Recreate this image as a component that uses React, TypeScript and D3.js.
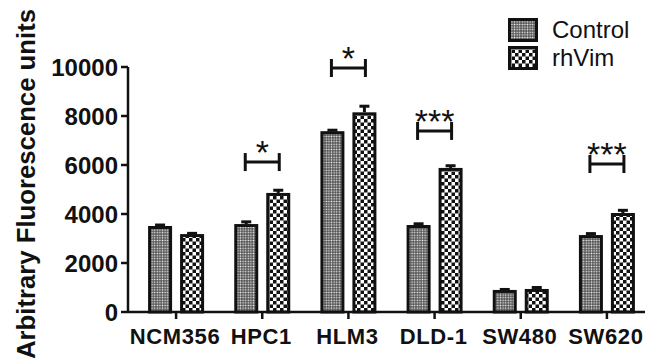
import React from "react";
import * as d3 from "d3";

const categories = ["NCM356", "HPC1", "HLM3", "DLD-1", "SW480", "SW620"];
const groups = ["Control", "rhVim"];
const controlValues = [3510, 3590, 7380, 3550, 900, 3140];
const controlErrors = [40, 90, 40, 50, 20, 60];
const rhVimValues = [3180, 4860, 8150, 5880, 940, 4040];
const rhVimErrors = [30, 110, 250, 90, 60, 110];
const yTicks = [0, 2000, 4000, 6000, 8000, 10000];
// significance brackets: category, label, height in data units
const sigCats = ["HPC1", "HLM3", "DLD-1", "SW620"];
const sigLabels = ["*", "*", "***", "***"];
const sigLevels = [6120, 9960, 7390, 6040];

const W = 645;
const H = 363;

const App = () => {
  const y = d3.scaleLinear().domain([0, 10000]).range([312, 67]);
  const x = d3.scaleBand().domain(categories).range([133, 650]).padding(0);
  const sub = d3.scaleBand().domain(groups).range([-28, 28]).paddingInner(0.25);
  const center = (c: string) => (x(c) as number) + x.bandwidth() / 2;
  const axisX = 128;
  const font = "'Liberation Sans', Arial, sans-serif";

  const rows = categories.flatMap((c, i) => [
    { cat: c, g: "Control", v: controlValues[i], e: controlErrors[i] },
    { cat: c, g: "rhVim", v: rhVimValues[i], e: rhVimErrors[i] },
  ]);

  return (
    <svg width={W} height={H} style={{ position: "absolute", left: 0, top: 0, background: "#fff" }}>
      <defs>
        <pattern id="pCtrl" width="2.6" height="2.6" patternUnits="userSpaceOnUse">
          <rect width="2.6" height="2.6" fill="#3a3a3a" />
          <rect x="0.5" y="0.5" width="1.6" height="1.6" fill="#f2f2f2" />
        </pattern>
        <pattern id="pVim" width="7" height="7" patternUnits="userSpaceOnUse">
          <rect width="7" height="7" fill="#fff" />
          <rect x="0" y="0" width="3.5" height="3.5" fill="#111" />
          <rect x="3.5" y="3.5" width="3.5" height="3.5" fill="#111" />
        </pattern>
      </defs>

      {/* y axis title */}
      <text
        transform={`translate(35,184) rotate(-90)`}
        textAnchor="middle"
        fontFamily={font}
        fontWeight="bold"
        fontSize={25}
        textLength={350}
        lengthAdjust="spacingAndGlyphs"
        fill="#111"
      >
        Arbitrary Fluorescence units
      </text>

      {/* y axis */}
      <line x1={axisX} x2={axisX} y1={y(10000)} y2={y(0)} stroke="#111" strokeWidth={2.5} />
      {yTicks.map((t) => (
        <g key={t}>
          <line x1={axisX - 7} x2={axisX} y1={y(t)} y2={y(t)} stroke="#111" strokeWidth={2.5} />
          <text
            x={axisX - 10}
            y={y(t) + 8.5}
            textAnchor="end"
            fontFamily={font}
            fontWeight="bold"
            fontSize={24}
            fill="#111"
          >
            {t}
          </text>
        </g>
      ))}

      {/* bars */}
      {rows.map((r) => {
        const bx = center(r.cat) + (sub(r.g) as number);
        const bw = sub.bandwidth();
        const top = y(r.v);
        const et = y(r.v + r.e);
        const mid = bx + bw / 2;
        return (
          <g key={r.cat + r.g}>
            <line x1={mid} x2={mid} y1={top} y2={et} stroke="#111" strokeWidth={3} />
            <line x1={mid - 5} x2={mid + 5} y1={et} y2={et} stroke="#111" strokeWidth={3} />
            <rect
              x={bx + 1.5}
              y={top + 1.5}
              width={bw - 3}
              height={y(0) - top - 1.5}
              fill={r.g === "Control" ? "url(#pCtrl)" : "url(#pVim)"}
              stroke="#111"
              strokeWidth={3}
            />
          </g>
        );
      })}

      {/* x axis */}
      <line x1={axisX} x2={645} y1={y(0)} y2={y(0)} stroke="#111" strokeWidth={2.5} />
      {categories.map((c) => (
        <g key={c}>
          <line x1={center(c)} x2={center(c)} y1={y(0)} y2={y(0) + 7} stroke="#111" strokeWidth={2.5} />
          <text
            x={center(c) - 1}
            y={344}
            textAnchor="middle"
            fontFamily={font}
            fontWeight="bold"
            fontSize={22}
            letterSpacing={0.6}
            fill="#111"
          >
            {c}
          </text>
        </g>
      ))}

      {/* significance */}
      {sigCats.map((c, i) => {
        const cx = center(c);
        const ly = y(sigLevels[i]);
        return (
          <g key={"s" + c}>
            <line x1={cx - 17} x2={cx + 17} y1={ly} y2={ly} stroke="#111" strokeWidth={3} />
            <line x1={cx - 17} x2={cx - 17} y1={ly - 9} y2={ly + 9} stroke="#111" strokeWidth={3} />
            <line x1={cx + 17} x2={cx + 17} y1={ly - 9} y2={ly + 9} stroke="#111" strokeWidth={3} />
            <text
              x={cx}
              y={ly + 2}
              textAnchor="middle"
              fontFamily={font}
              fontSize={34}
              fill="#111"
            >
              {sigLabels[i]}
            </text>
          </g>
        );
      })}

      {/* legend */}
      {groups.map((g, i) => (
        <g key={g} transform={`translate(508,${18 + i * 28})`}>
          <rect
            x={1.5}
            y={1.5}
            width={27}
            height={21}
            fill={g === "Control" ? "url(#pCtrl)" : "url(#pVim)"}
            stroke="#111"
            strokeWidth={3}
          />
          <text x={44} y={20} fontFamily={font} fontSize={24} fill="#111">
            {g}
          </text>
        </g>
      ))}
    </svg>
  );
};

export default App;
